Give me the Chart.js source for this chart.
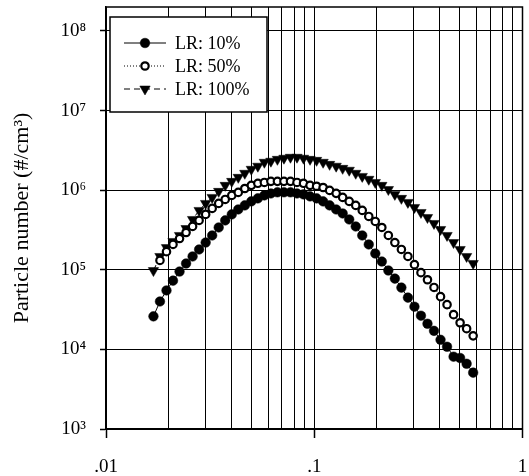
<!DOCTYPE html>
<html><head><meta charset="utf-8">
<script src="https://cdn.jsdelivr.net/npm/chart.js@4/dist/chart.umd.min.js"></script>
<style>html,body{margin:0;padding:0;background:#fff;overflow:hidden}</style>
</head><body>
<canvas id="c" width="529" height="476"></canvas>
<script>
// Particle diameter (x, log scale)
const diameters = [0.0169,0.01816,0.01952,0.02098,0.02255,0.02424,0.02605,0.028,0.0301,0.03235,
  0.03477,0.03737,0.04017,0.04317,0.0464,0.04987,0.0536,0.05761,0.06192,0.06655,
  0.07153,0.07688,0.08263,0.08881,0.09545,0.1026,0.1103,0.1185,0.1274,0.1369,
  0.1472,0.1582,0.17,0.1827,0.1964,0.2111,0.2269,0.2438,0.2621,0.2817,
  0.3028,0.3254,0.3497,0.3759,0.404,0.4342,0.4667,0.5016,0.5391,0.5795];
const lr10 = [2.6e4,4.0e4,5.5e4,7.3e4,9.5e4,1.2e5,1.47e5,1.8e5,2.2e5,2.7e5,
  3.4e5,4.17e5,4.96e5,5.73e5,6.44e5,7.23e5,7.89e5,8.6e5,9.1e5,9.4e5,
  9.4e5,9.4e5,9.1e5,8.85e5,8.36e5,7.89e5,7.23e5,6.44e5,5.73e5,5.1e5,
  4.29e5,3.5e5,2.7e5,2.08e5,1.6e5,1.27e5,9.8e4,7.75e4,5.97e4,4.47e4,
  3.44e4,2.65e4,2.1e4,1.71e4,1.32e4,1.08e4,8.1e3,7.8e3,6.6e3,5.1e3];
const lr50 = [null,1.31e5,1.69e5,2.08e5,2.47e5,2.94e5,3.5e5,4.17e5,4.96e5,5.9e5,
  6.82e5,7.65e5,8.6e5,9.38e5,1.05e6,1.15e6,1.22e6,1.25e6,1.29e6,1.29e6,
  1.29e6,1.29e6,1.25e6,1.22e6,1.15e6,1.12e6,1.08e6,9.94e5,9.12e5,8.11e5,
  7.23e5,6.44e5,5.57e5,4.68e5,4.05e5,3.4e5,2.7e5,2.2e5,1.8e5,1.47e5,
  1.16e5,9.2e4,7.5e4,6.0e4,4.6e4,3.65e4,2.73e4,2.16e4,1.82e4,1.48e4];
const lr100 = [9.77e4,1.47e5,1.9e5,2.27e5,2.7e5,3.3e5,4.29e5,5.57e5,6.82e5,8.11e5,
  9.66e5,1.15e6,1.29e6,1.45e6,1.63e6,1.83e6,2.0e6,2.24e6,2.31e6,2.44e6,
  2.52e6,2.59e6,2.59e6,2.52e6,2.44e6,2.37e6,2.24e6,2.11e6,2.0e6,1.88e6,
  1.78e6,1.63e6,1.49e6,1.37e6,1.25e6,1.15e6,1.02e6,8.85e5,7.89e5,7.02e5,
  6.07e5,5.25e5,4.54e5,3.82e5,3.21e5,2.7e5,2.2e5,1.8e5,1.47e5,1.2e5];
const seriesLabels = ['LR: 10%','LR: 50%','LR: 100%'];
const xGridValues = [0.01,0.02,0.03,0.04,0.05,0.06,0.07,0.08,0.09,0.1,0.2,0.3,0.4,0.5,0.6,0.7,0.8,0.9,1];
const xMajorValues = [0.01,0.1,1];
const xMajorLabels = ['.01','.1','1'];
const yTickValues = [1e3,1e4,1e5,1e6,1e7,1e8];
const yTickLabels = ['10³','10⁴','10⁵','10⁶','10⁷','10⁸'];
const yAxisTitle = 'Particle number (#/cm³)';

const SERIF = "'Liberation Serif','Times New Roman',serif";
const pts = arr => diameters.map((d,i)=>({x:d,y:arr[i]}));

function drawMarker(ctx, style, x, y, r, fill, bw){
  ctx.beginPath();
  if(style==='triangle'){
    for(let k=0;k<3;k++){
      const a = Math.PI + k*2*Math.PI/3;
      const px = x + Math.sin(a)*r, py = y - Math.cos(a)*r;
      k===0?ctx.moveTo(px,py):ctx.lineTo(px,py);
    }
    ctx.closePath();
  } else {
    ctx.arc(x,y,r,0,Math.PI*2);
  }
  ctx.fillStyle = fill; ctx.fill();
  if(bw>0){ctx.lineWidth=bw;ctx.strokeStyle='#000';ctx.stroke();}
}

const framePlugin = {
  id:'frame',
  beforeDatasetsDraw(chart){
    const a = chart.chartArea, ctx = chart.ctx;
    ctx.save(); ctx.lineWidth = 1.5; ctx.strokeStyle='#000';
    ctx.strokeRect(a.left, a.top, a.right-a.left, a.bottom-a.top);
    ctx.restore();
  }
};
const legendPlugin = {
  id:'boxLegend',
  afterDraw(chart){
    const ctx = chart.ctx;
    const x0=110,y0=17,w=157,h=95;
    ctx.save();
    ctx.fillStyle='#fff'; ctx.fillRect(x0,y0,w,h);
    ctx.lineWidth=1.5; ctx.strokeStyle='#000'; ctx.strokeRect(x0,y0,w,h);
    chart.data.datasets.forEach((ds,i)=>{
      const y = 43 + i*23;
      ctx.beginPath(); ctx.setLineDash(ds.borderDash||[]); ctx.lineWidth=1; ctx.strokeStyle='#000';
      ctx.moveTo(124,y); ctx.lineTo(166,y); ctx.stroke(); ctx.setLineDash([]);
      drawMarker(ctx, ds.pointStyle, 145, y, ds.pointRadius, ds.pointBackgroundColor, ds.pointBorderWidth);
      ctx.fillStyle='#000'; ctx.font = '18px '+SERIF; ctx.textBaseline='middle'; ctx.textAlign='left';
      ctx.fillText(ds.label, 175, y+1);
    });
    ctx.restore();
  }
};

new Chart(document.getElementById('c'), {
  type:'line',
  data:{datasets:[
    {label:seriesLabels[0], data:pts(lr10), borderColor:'#000', borderWidth:1, pointStyle:'circle', pointRadius:4.8,
     pointBackgroundColor:'#000', pointBorderColor:'#000', pointBorderWidth:0.5, fill:false},
    {label:seriesLabels[1], data:pts(lr50), borderColor:'#000', borderWidth:1, borderDash:[1,2], pointStyle:'circle', pointRadius:3.7,
     pointBackgroundColor:'#fff', pointBorderColor:'#000', pointBorderWidth:2.2, fill:false},
    {label:seriesLabels[2], data:pts(lr100), borderColor:'#000', borderWidth:1, borderDash:[6,4], pointStyle:'triangle', pointRotation:180, pointRadius:6,
     pointBackgroundColor:'#000', pointBorderColor:'#000', pointBorderWidth:0.5, fill:false}
  ]},
  options:{
    responsive:false, animation:false, devicePixelRatio:1,
    layout:{padding:{top:7,right:2,left:0,bottom:0}},
    plugins:{legend:{display:false}, tooltip:{enabled:false}},
    scales:{
      x:{type:'logarithmic', min:0.01, max:1,
        afterBuildTicks:s=>{s.ticks = xGridValues.map(v=>({value:v, major:xMajorValues.includes(v)}));},
        afterFit:s=>{s.height=47; s.paddingLeft=0; s.paddingRight=0;},
        grid:{color:'#000', lineWidth:1, tickLength:9,
          tickColor:c=> (c.tick && xMajorValues.includes(c.tick.value)) ? '#000' : 'rgba(0,0,0,0)', tickWidth:1.5},
        border:{color:'#000', width:1.5},
        ticks:{autoSkip:false, maxRotation:0, minRotation:0, padding:18, color:'#000', font:{family:SERIF,size:19},
          callback:(v)=>{const k = xMajorValues.indexOf(v); return k>=0 ? xMajorLabels[k] : '';}}
      },
      y:{type:'logarithmic', min:1e3, max:2e8,
        afterBuildTicks:s=>{s.ticks = yTickValues.map(v=>({value:v, major:true}));},
        afterFit:s=>{s.width=106; s.paddingTop=0; s.paddingBottom=0;},
        grid:{color:'#000', lineWidth:1, tickLength:6, tickWidth:1.5},
        border:{color:'#000', width:1.5},
        title:{display:true, text:yAxisTitle, color:'#000', font:{family:SERIF,size:22}, padding:{top:9,bottom:0}},
        ticks:{padding:14, color:'#000', font:{family:SERIF,size:19},
          callback:(v)=>{const k = yTickValues.indexOf(v); return k>=0 ? yTickLabels[k] : '';}}
      }
    }
  },
  plugins:[framePlugin, legendPlugin]
});
</script>
</body></html>
